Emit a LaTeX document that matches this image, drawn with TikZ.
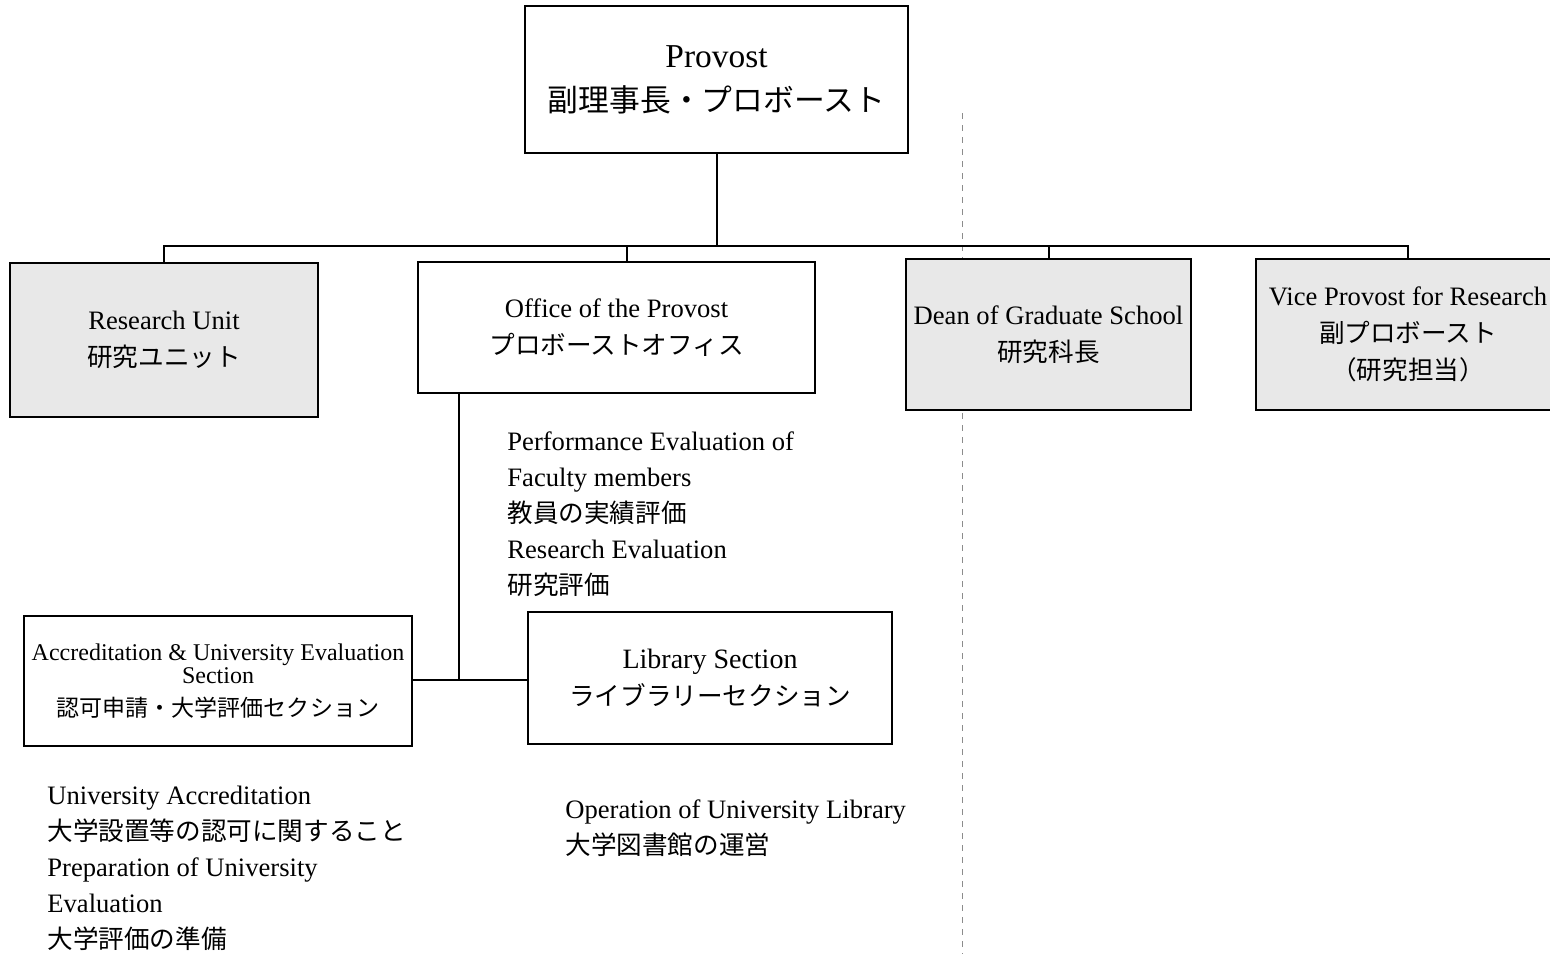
\documentclass[tikz,border=0pt]{standalone}
\usepackage{fontspec}
\setmainfont{Liberation Serif}
\newfontfamily\jpf{Noto Sans CJK JP}
\newcommand\J[2][12.8]{{\jpf\fontsize{#1}{18}\selectfont #2}}
\begin{document}
\begin{tikzpicture}[x=0.5pt,y=-0.5pt,
  box/.style={draw,line width=1pt,rectangle,align=center,inner sep=0pt,
    font=\fontsize{13.3}{18.5}\selectfont},
  shaded/.style={box,fill=black!9},
  conn/.style={line width=1pt},
  desc/.style={anchor=north west,align=left,inner sep=0pt,
    font=\fontsize{13.3}{18}\selectfont}]
\useasboundingbox (0,0) rectangle (1550,954);
\clip (0,0) rectangle (1550,954);
% scan fold line
\draw[black!45,line width=0.5pt,dash pattern=on 3pt off 3pt] (962,113) -- (962,954);

\node[box,minimum width=191.5pt,minimum height=73.5pt,
  font=\fontsize{16.7}{22}\selectfont] (provost) at (716.5,79.5)
  {Provost\\\J[15.4]{副理事長・プロボースト}};

\node[shaded,minimum width=154pt,minimum height=77pt] (ru) at (164,340)
  {Research Unit\\\J{研究ユニット}};
\node[box,minimum width=198.5pt,minimum height=65.5pt] (office) at (616.5,327.5)
  {Office of the Provost\\\J{プロボーストオフィス}};
\node[shaded,minimum width=142.5pt,minimum height=75.5pt] (dean) at (1048.5,334.5)
  {Dean of Graduate School\\\J{研究科長}};
\node[shaded,minimum width=152pt,minimum height=75.5pt] (vp) at (1408,334.5)
  {Vice Provost for Research\\\J{副プロボースト}\\\J{（研究担当）}};

\node[box,minimum width=194pt,minimum height=65pt,
  font=\fontsize{12}{11.5}\selectfont] (acc) at (218,681)
  {Accreditation \& University Evaluation\\Section\\[5pt]\J[11.5]{認可申請・大学評価セクション}};
\node[box,minimum width=182pt,minimum height=66pt,
  font=\fontsize{14}{18.5}\selectfont] (lib) at (710,678)
  {Library Section\\\J{ライブラリーセクション}};

% connectors
\coordinate (bus) at (716,246);
\coordinate (jn) at (459,680);
\draw[conn] (provost.south) -- (provost.south |- bus);
\draw[conn] (ru.north) -- (ru.north |- bus) -- (vp.north |- bus) -- (vp.north);
\draw[conn] ([xshift=5pt]office.north) -- ([xshift=5pt]office.north |- bus);
\draw[conn] (dean.north) -- (dean.north |- bus);
\draw[conn] (office.south -| jn) -- (jn);
\draw[conn] (acc.east |- jn) -- (lib.west |- jn);

% descriptions
\node[desc] (d1) at (507,431)
  {Performance Evaluation of\\Faculty members\\\J{教員の実績評価}\\Research Evaluation\\\J{研究評価}};
\node[desc] (d2) at (47,786)
  {University Accreditation\\\J{大学設置等の認可に関すること}\\Preparation of University\\Evaluation\\\J{大学評価の準備}};
\node[desc] (d3) at (565,799)
  {Operation of University Library\\\J{大学図書館の運営}};
\end{tikzpicture}
\end{document}
